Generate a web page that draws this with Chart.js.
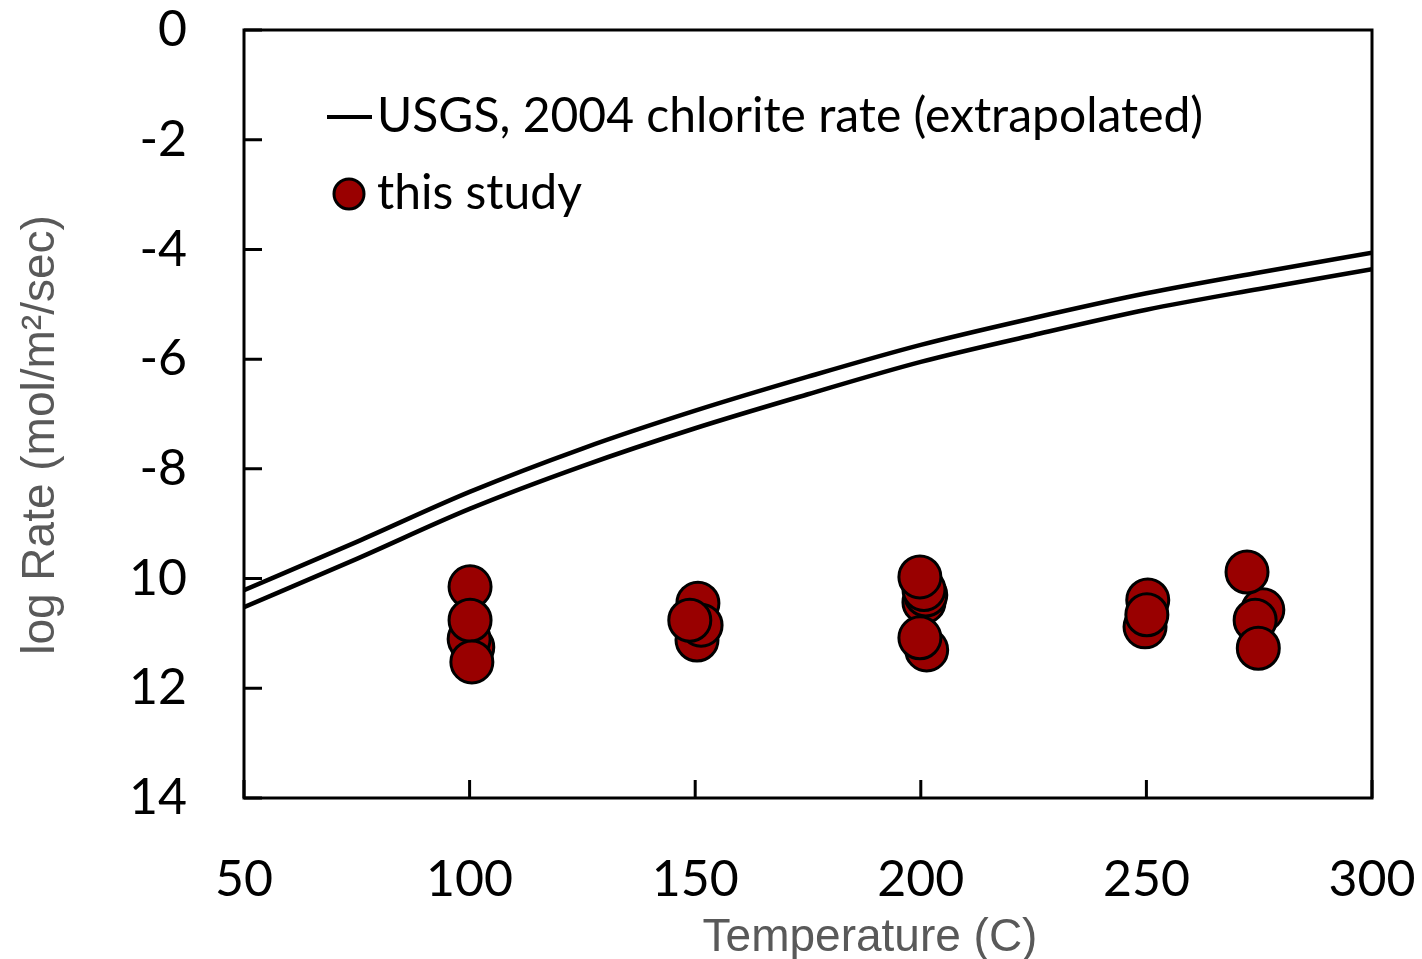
<!DOCTYPE html>
<html>
<head>
<meta charset="utf-8">
<script src="https://cdn.jsdelivr.net/npm/chart.js@4"></script>
<style>
  html, body { margin: 0; padding: 0; background: #fff; }
  #wrap { width: 1422px; height: 959px; }
</style>
</head>
<body>
<div id="wrap"><canvas id="rateChart"></canvas></div>
<script>
// USGS 2004 chlorite rate curve (extrapolated), drawn as a double line
const usgsTemp = [50, 75, 100, 125, 150, 175, 200, 225, 250, 275, 300];
const usgsUpper = [-10.21, -9.33, -8.42, -7.63, -6.94, -6.32, -5.74, -5.25, -4.8, -4.42, -4.06];
const usgsLower = [-10.52, -9.64, -8.73, -7.95, -7.26, -6.64, -6.05, -5.56, -5.1, -4.72, -4.36];

// this study (back to front)
const studyTemp = [100.7, 99.9, 100.1, 100.1, 100.5,
  150.6, 150.4, 151.3, 148.8,
  200.7, 201.1, 200.7, 199.8, 201.3, 199.8,
  249.7, 250.3, 250.1,
  275.8, 272.3, 274.1, 274.8];
const studyRate = [-11.25, -11.1, -10.15, -10.76, -11.52,
  -10.45, -11.12, -10.85, -10.76,
  -10.43, -10.3, -10.2, -9.97, -11.3, -11.08,
  -10.88, -10.39, -10.66,
  -10.57, -9.88, -10.76, -11.27];

const xTicks = [50, 100, 150, 200, 250, 300];
const yTicks = [0, -2, -4, -6, -8, -10, -12, -14];

const lineLabel = 'USGS, 2004 chlorite rate (extrapolated)';
const pointLabel = 'this study';
const xTitle = 'Temperature (C)';
const yTitle = 'log Rate (mol/m\u00B2/sec)';

const tickFont = { family: 'Lato', size: 50 };

const toXY = (xs, ys) => xs.map((x, i) => ({ x: x, y: ys[i] }));

const frameAndExtras = {
  id: 'frameAndExtras',
  afterDraw(chart) {
    const { ctx, chartArea: a, scales } = chart;
    ctx.save();
    // frame
    ctx.strokeStyle = '#000';
    ctx.lineWidth = 3;
    ctx.strokeRect(a.left, a.top, a.right - a.left, a.bottom - a.top);
    // inward ticks
    const len = 18;
    ctx.beginPath();
    yTicks.forEach(v => {
      const y = scales.y.getPixelForValue(v);
      ctx.moveTo(a.left, y);
      ctx.lineTo(a.left + len, y);
    });
    xTicks.forEach(v => {
      const x = scales.x.getPixelForValue(v);
      ctx.moveTo(x, a.bottom);
      ctx.lineTo(x, a.bottom - len);
    });
    ctx.stroke();

    // legend
    const ds0 = chart.data.datasets[0];
    const ds1 = chart.data.datasets[2];
    ctx.font = '48px Lato';
    ctx.fillStyle = '#000';
    ctx.textBaseline = 'middle';
    ctx.lineWidth = 4;
    ctx.beginPath();
    ctx.moveTo(a.left + 83, 117);
    ctx.lineTo(a.left + 128, 117);
    ctx.stroke();
    ctx.fillText(ds0.label, a.left + 133, 117);
    ctx.beginPath();
    ctx.arc(a.left + 105, 194, 15, 0, Math.PI * 2);
    ctx.fillStyle = ds1.backgroundColor;
    ctx.fill();
    ctx.lineWidth = 3;
    ctx.stroke();
    ctx.fillStyle = '#000';
    ctx.fillText(ds1.label, a.left + 133, 194);

    // axis titles
    ctx.fillStyle = '#595959';
    ctx.font = '46px "Liberation Sans"';
    ctx.textAlign = 'center';
    ctx.textBaseline = 'alphabetic';
    ctx.fillText(xTitle, 870, 951);
    ctx.translate(54, 435);
    ctx.rotate(-Math.PI / 2);
    ctx.fillText(yTitle, 0, 0);
    ctx.restore();
  }
};

new Chart(document.getElementById('rateChart'), {
  type: 'scatter',
  data: {
    datasets: [
      {
        type: 'line',
        label: lineLabel,
        data: toXY(usgsTemp, usgsUpper),
        borderColor: '#000',
        borderWidth: 4.5,
        pointRadius: 0,
        cubicInterpolationMode: 'monotone',
        fill: false,
      },
      {
        type: 'line',
        label: lineLabel + ' (lower)',
        data: toXY(usgsTemp, usgsLower),
        borderColor: '#000',
        borderWidth: 4.5,
        pointRadius: 0,
        cubicInterpolationMode: 'monotone',
        fill: false,
      },
      {
        label: pointLabel,
        data: toXY(studyTemp, studyRate),
        backgroundColor: '#990000',
        borderColor: '#000',
        borderWidth: 3,
        pointRadius: 21,
        pointHoverRadius: 21,
      },
    ],
  },
  options: {
    responsive: true,
    maintainAspectRatio: false,
    animation: false,
    layout: { padding: { top: 30, right: 50, left: 0, bottom: 0 } },
    plugins: {
      legend: { display: false },
      tooltip: { enabled: false },
    },
    scales: {
      x: {
        type: 'linear',
        min: 50,
        max: 300,
        afterBuildTicks: s => { s.ticks = xTicks.map(v => ({ value: v })); },
        afterFit: s => {
          s.height = 161;
          s.paddingLeft = 0;
          s.paddingRight = 0;
        },
        grid: { display: false, drawTicks: false },
        border: { display: false },
        ticks: { color: '#000', font: tickFont, padding: 52, maxRotation: 0 },
      },
      y: {
        type: 'linear',
        min: -14,
        max: 0,
        afterBuildTicks: s => { s.ticks = yTicks.map(v => ({ value: v })); },
        afterFit: s => {
          s.width = 244;
          s.paddingTop = 0;
          s.paddingBottom = 0;
        },
        grid: { display: false, drawTicks: false },
        border: { display: false },
        ticks: {
          color: '#000',
          font: tickFont,
          padding: 57,
          callback: v => (v > -10 ? String(v) : String(-v)),
        },
      },
    },
  },
  plugins: [frameAndExtras],
});
</script>
</body>
</html>
